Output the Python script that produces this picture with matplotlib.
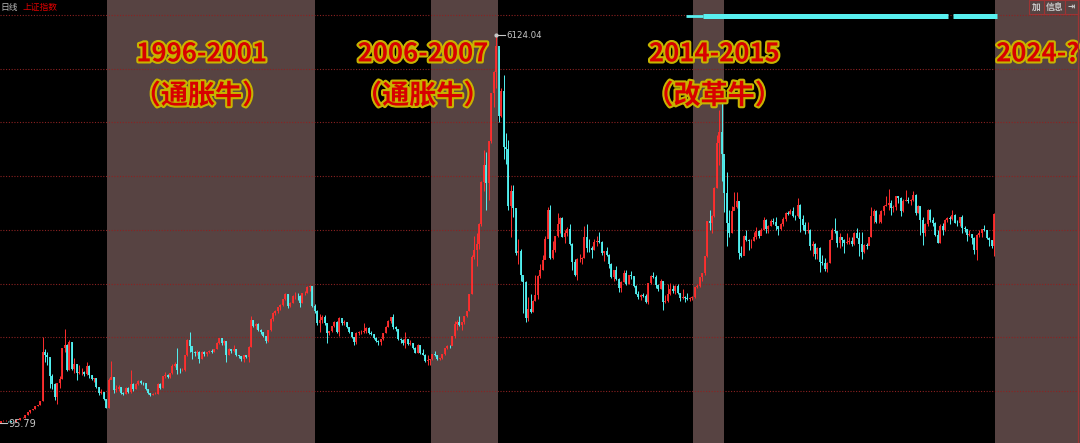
import matplotlib

matplotlib.use("Agg")
import matplotlib.pyplot as plt
import matplotlib.patheffects as pe
import numpy as np

plt.rcParams["font.family"] = ["Noto Sans CJK SC", "DejaVu Sans"]

# monthly bars of the SSE Composite, first bar = Dec 1990
FIRST_OPEN = 96.05
close = [
    127.6,  # 1990-12
    130, 133, 120, 114, 115, 138, 144, 178, 181, 219, 260, 293,  # 1991
    313, 365, 371, 445, 1200, 1150, 1120, 820, 708, 502, 719, 780,  # 1992
    1258, 1309, 925, 1358, 935, 1007, 876, 887, 888, 858, 976, 834,  # 1993
    774, 792, 650, 555, 570, 467, 334, 757, 803, 608, 621, 648,  # 1994
    562, 549, 646, 577, 701, 630, 704, 745, 717, 716, 621, 555,  # 1995
    537, 549, 554, 700, 644, 821, 838, 818, 869, 988, 1015, 917,  # 1996
    914, 917, 1145, 1387, 1298, 1199, 1188, 1204, 1097, 1205, 1165, 1194,  # 1997
    1222, 1206, 1243, 1343, 1411, 1339, 1370, 1150, 1246, 1217, 1245, 1147,  # 1998
    1135, 1091, 1158, 1120, 1279, 1689, 1601, 1627, 1546, 1505, 1445, 1367,  # 1999
    1534, 1714, 1800, 1836, 1895, 1928, 2023, 2101, 1910, 1961, 2071, 2073,  # 2000
    2065, 1959, 2113, 2120, 2214, 2218, 1920, 1834, 1642, 1690, 1748, 1646,  # 2001
    1490, 1524, 1603, 1672, 1513, 1732, 1655, 1669, 1581, 1505, 1427, 1357,  # 2002
    1500, 1511, 1511, 1521, 1577, 1487, 1476, 1421, 1367, 1349, 1397, 1497,  # 2003
    1590, 1675, 1742, 1595, 1555, 1399, 1386, 1342, 1396, 1321, 1340, 1266,  # 2004
    1191, 1306, 1181, 1159, 1060, 1080, 1083, 1162, 1155, 1092, 1099, 1161,  # 2005
    1258, 1299, 1298, 1440, 1641, 1672, 1612, 1658, 1752, 1837, 2099, 2675,  # 2006
    2786, 2881, 3183, 3841, 4109, 3820, 4471, 5218, 5552, 5955, 4871, 5261,  # 2007
    4383, 4348, 3473, 3693, 3433, 2736, 2775, 2397, 2293, 1728, 1871, 1821,  # 2008
    1991, 2082, 2373, 2477, 2632, 2959, 3412, 2667, 2779, 2996, 3195, 3277,  # 2009
    2989, 3051, 3109, 2870, 2592, 2398, 2638, 2638, 2656, 2979, 2820, 2808,  # 2010
    2790, 2905, 2928, 2911, 2743, 2762, 2701, 2567, 2359, 2468, 2333, 2199,  # 2011
    2292, 2428, 2263, 2396, 2373, 2225, 2103, 2047, 2086, 2069, 1980, 2269,  # 2012
    2385, 2365, 2237, 2178, 2301, 1979, 1994, 2098, 2174, 2141, 2220, 2116,  # 2013
    2033, 2056, 2033, 2026, 2039, 2048, 2202, 2217, 2364, 2420, 2683, 3235,  # 2014
    3210, 3310, 3748, 4442, 4612, 4277, 3664, 3206, 3053, 3383, 3445, 3539,  # 2015
    2738, 2688, 3004, 2938, 2917, 2930, 2979, 3085, 3005, 3100, 3250, 3104,  # 2016
    3159, 3242, 3223, 3155, 3117, 3192, 3273, 3361, 3349, 3393, 3317, 3307,  # 2017
    3481, 3259, 3169, 3082, 3095, 2847, 2876, 2725, 2821, 2603, 2588, 2494,  # 2018
    2585, 2941, 3091, 3078, 2899, 2979, 2933, 2886, 2905, 2929, 2872, 3050,  # 2019
    2977, 2880, 2750, 2860, 2852, 2985, 3310, 3396, 3218, 3225, 3392, 3473,  # 2020
    3483, 3509, 3442, 3447, 3615, 3591, 3397, 3544, 3568, 3547, 3564, 3640,  # 2021
    3361, 3462, 3252, 3047, 3186, 3399, 3253, 3202, 3024, 2893, 3151, 3089,  # 2022
    3256, 3280, 3273, 3323, 3205, 3202, 3291, 3120, 3110, 3018, 3030, 2975,  # 2023
    2789, 3015, 3041, 3105, 3087, 2967, 2939, 2842, 3336,  # 2024
]
high = [
    127.6,
    135, 135, 134, 121, 116, 138, 144, 178, 190, 219, 260, 293,
    313, 365, 373, 445, 1429, 1250, 1200, 1100, 850, 720, 720, 830,
    1258, 1559, 1330, 1392, 1360, 1100, 1020, 1000, 950, 900, 1044, 1000,
    840, 800, 800, 660, 620, 580, 470, 800, 1053, 810, 690, 680,
    650, 570, 650, 650, 926, 710, 710, 760, 760, 730, 720, 620,
    560, 560, 570, 720, 710, 830, 890, 850, 880, 1010, 1050, 1258,
    950, 950, 1150, 1400, 1510, 1260, 1220, 1230, 1220, 1210, 1220, 1200,
    1230, 1240, 1250, 1350, 1420, 1422, 1380, 1370, 1260, 1250, 1300, 1250,
    1160, 1140, 1160, 1160, 1290, 1756, 1700, 1650, 1650, 1560, 1510, 1440,
    1540, 1730, 1820, 1850, 1900, 1940, 2030, 2115, 2100, 1970, 2080, 2125,
    2110, 2080, 2120, 2140, 2220, 2245, 2230, 1940, 1850, 1790, 1770, 1780,
    1650, 1530, 1610, 1680, 1680, 1748, 1700, 1690, 1670, 1590, 1510, 1430,
    1510, 1520, 1540, 1649, 1580, 1580, 1520, 1480, 1430, 1380, 1400, 1500,
    1600, 1690, 1750, 1783, 1600, 1560, 1420, 1400, 1510, 1400, 1390, 1340,
    1270, 1320, 1310, 1240, 1170, 1150, 1090, 1170, 1220, 1160, 1110, 1170,
    1260, 1300, 1310, 1445, 1680, 1700, 1757, 1670, 1760, 1840, 2100, 2700,
    2994, 3050, 3200, 3850, 4335, 4300, 4480, 5220, 5560, 6124.04, 5900, 5300,
    5500, 4600, 4500, 3800, 3786, 3400, 2950, 2800, 2360, 2300, 2050, 2100,
    2000, 2400, 2400, 2560, 2700, 3000, 3450, 3478, 2930, 3000, 3360, 3300,
    3300, 3100, 3140, 3180, 2900, 2650, 2660, 2720, 2680, 3160, 3186, 2950,
    2850, 2950, 3000, 3067, 2920, 2770, 2830, 2720, 2580, 2480, 2536, 2350,
    2300, 2480, 2478, 2400, 2453, 2370, 2240, 2150, 2100, 2110, 2100, 2275,
    2400, 2444, 2400, 2260, 2330, 2300, 2090, 2250, 2270, 2240, 2245, 2250,
    2120, 2180, 2070, 2110, 2060, 2070, 2210, 2250, 2370, 2430, 2690, 3240,
    3400, 3320, 3760, 4570, 4958, 5178.19, 4200, 4000, 3400, 3460, 3680, 3684,
    3540, 2850, 3020, 3100, 2950, 2960, 3070, 3140, 3100, 3120, 3300, 3270,
    3170, 3260, 3280, 3300, 3160, 3200, 3300, 3370, 3390, 3420, 3450, 3330,
    3587, 3500, 3330, 3220, 3220, 3110, 2920, 2900, 2830, 2830, 2700, 2660,
    2600, 2950, 3130, 3288, 3000, 3050, 2990, 2950, 3050, 2990, 2980, 3070,
    3127, 3060, 3070, 2870, 2900, 2990, 3458, 3420, 3400, 3350, 3400, 3480,
    3620, 3731, 3560, 3480, 3630, 3630, 3600, 3580, 3723, 3600, 3580, 3708,
    3650, 3490, 3470, 3300, 3200, 3420, 3425, 3300, 3220, 3100, 3180, 3200,
    3270, 3300, 3310, 3400, 3350, 3250, 3300, 3322, 3150, 3110, 3090, 3040,
    2980, 3030, 3090, 3110, 3174, 3090, 2990, 2940, 3358,
]
low = [
    95.79,
    127, 129, 118, 105, 105, 114, 136, 142, 178, 180, 217, 257,
    292, 312, 360, 368, 441, 1050, 1000, 640, 620, 460, 386.85, 640,
    780, 1200, 900, 925, 920, 880, 770, 850, 840, 820, 840, 800,
    760, 730, 640, 530, 540, 460, 325.89, 330, 780, 560, 580, 600,
    550, 524, 550, 560, 560, 600, 620, 690, 700, 690, 610, 550,
    512.83, 530, 540, 550, 630, 640, 800, 790, 790, 860, 970, 855,
    870, 900, 910, 1140, 1200, 1090, 1130, 1150, 1025, 1090, 1140, 1130,
    1180, 1190, 1200, 1240, 1330, 1310, 1300, 1043, 1150, 1180, 1200, 1130,
    1110, 1060, 1047, 1100, 1050, 1280, 1580, 1550, 1530, 1480, 1430, 1341,
    1360, 1530, 1680, 1780, 1800, 1850, 1920, 2000, 1880, 1900, 1960, 2020,
    2000, 1893, 1960, 2080, 2110, 2150, 1900, 1800, 1620, 1514, 1650, 1620,
    1339, 1470, 1510, 1590, 1500, 1450, 1620, 1620, 1570, 1490, 1410, 1311,
    1320, 1470, 1480, 1500, 1500, 1480, 1460, 1400, 1350, 1310, 1307, 1390,
    1490, 1580, 1650, 1560, 1520, 1380, 1340, 1310, 1260, 1310, 1300, 1250,
    1180, 1180, 1170, 1150, 1040, 998, 1004, 1080, 1140, 1080, 1074, 1090,
    1160, 1250, 1260, 1300, 1420, 1540, 1600, 1540, 1640, 1750, 1840, 2100,
    2650, 2541, 2800, 3150, 3700, 3400, 3560, 4450, 5000, 5300, 4778, 4850,
    4200, 4123, 3400, 2990, 3300, 2700, 2560, 2300, 1802, 1664.93, 1680, 1800,
    1820, 1990, 2030, 2350, 2470, 2640, 2980, 2640, 2640, 2760, 2990, 3050,
    2990, 2900, 3000, 2860, 2480, 2380, 2320, 2600, 2560, 2660, 2750, 2750,
    2660, 2780, 2850, 2900, 2710, 2610, 2690, 2500, 2350, 2307, 2320, 2134,
    2132, 2280, 2240, 2250, 2340, 2210, 2100, 2030, 2000, 2060, 1960, 1949,
    2260, 2350, 2200, 2150, 2170, 1849, 1960, 1980, 2080, 2120, 2100, 2100,
    1985, 2030, 1974, 2010, 1991, 2010, 2040, 2190, 2210, 2300, 2400, 2670,
    3100, 3050, 3300, 3750, 4100, 3850, 3373, 2850, 2980, 3050, 3420, 3440,
    2638, 2680, 2740, 2920, 2780, 2810, 2930, 2960, 2970, 3010, 3100, 3050,
    3050, 3150, 3180, 3100, 3016, 3090, 3150, 3230, 3330, 3340, 3300, 3250,
    3300, 3062, 3100, 3040, 3050, 2780, 2690, 2650, 2640, 2449, 2550, 2460,
    2440, 2580, 2950, 3050, 2830, 2820, 2850, 2730, 2880, 2880, 2850, 2860,
    2970, 2685, 2646, 2730, 2800, 2860, 2980, 3200, 3200, 3200, 3210, 3325,
    3460, 3400, 3328, 3380, 3410, 3520, 3312, 3380, 3540, 3510, 3490, 3540,
    3330, 3357, 3023, 2863, 3000, 3150, 3220, 3150, 3000, 2885, 2900, 3020,
    3080, 3220, 3180, 3250, 3200, 3150, 3150, 3050, 3060, 2923, 3000, 2882,
    2724, 2635, 2990, 2980, 3080, 2950, 2840, 2820, 2689,
]

# bull-market shading (decimal years) and labels
bull_spans = [(1994.58, 2001.62), (2005.58, 2007.84), (2014.49, 2015.54), (2024.75, 2028.0)]
bull_years = ["1996-2001", "2006-2007", "2014-2015", "2024-?"]
bull_names = ["（通胀牛）", "（通胀牛）", "（改革牛）", ""]
label_x = [1997.78, 2005.3, 2015.2, 2024.78]

# dotted horizontal grid levels used by the terminal
grid_levels = [593, 1429, 2263, 3097, 3933, 4766, 5600, 6434]

# cyan signal strip at the top
strip_spans = [(2014.83, 2023.15), (2023.32, 2024.81)]
strip_thin = (2014.25, 2014.83)

UP = "#ff2e2e"
DOWN = "#52f2f2"
SHADE = "#574342"

fig = plt.figure(figsize=(10.8, 4.43), dpi=100, facecolor="black")
ax = fig.add_axes([0, 0, 1, 1])
ax.set_facecolor("black")
ax.set_xlim(1990.93, 2027.63)
ax.set_ylim(-215, 6668)
ax.axis("off")

for x0, x1 in bull_spans:
    ax.axvspan(x0, x1, color=SHADE, zorder=0, lw=0)

for g in grid_levels:
    ax.axhline(g, color="#8c2222", lw=0.8, ls=(0, (1, 1.5)), zorder=1)

close_a = np.array(close, dtype=float)
high_a = np.array(high, dtype=float)
low_a = np.array(low, dtype=float)
open_a = np.concatenate([[FIRST_OPEN], close_a[:-1]])
xs = 1990 + (11 + np.arange(len(close_a)) + 0.5) / 12
cols = np.where(close_a >= open_a, UP, DOWN)

ax.vlines(xs, low_a, high_a, colors=cols, lw=0.7, zorder=3)
ax.vlines(xs, open_a, close_a, colors=cols, lw=1.3, zorder=4)

# extreme labels
peak_i = int(np.argmax(high_a))
ax.plot([xs[peak_i], xs[peak_i] + 0.3], [high_a[peak_i]] * 2, color="#c8c8c8", lw=0.8, zorder=5)
ax.plot(xs[peak_i], high_a[peak_i], "o", ms=2, color="#c8c8c8", zorder=5)
ax.text(xs[peak_i] + 0.33, high_a[peak_i], f"{high_a[peak_i]:.2f}", color="#c8c8c8",
        fontsize=6.2, va="center", ha="left", family="DejaVu Sans", zorder=5)
low_i = int(np.argmin(low_a))
ax.plot([1990.93, xs[low_i] + 0.2], [low_a[low_i]] * 2, color="#c8c8c8", lw=0.8, zorder=5)
ax.text(xs[low_i] + 0.25, low_a[low_i] - 15, f"{low_a[low_i]:.2f}", color="#c8c8c8",
        fontsize=7, va="center", ha="left", family="DejaVu Sans", zorder=5)

# signal strip
for x0, x1 in strip_spans:
    ax.hlines(6419, x0, x1, color="#58f0f0", lw=3.6, zorder=6)
ax.hlines(6419, strip_thin[0], strip_thin[1], color="#58f0f0", lw=2.0, zorder=6)

# bull labels
stroke = [pe.withStroke(linewidth=3, foreground="#c8b400")]
for x, yr, name in zip(label_x, bull_years, bull_names):
    ha = "left" if name == "" else "center"
    ax.text(x, 5830, yr, color="#d80000", fontsize=18.5, fontweight="bold", ha=ha,
            va="center", path_effects=stroke, zorder=7)
    if name:
        ax.text(x, 5180, name, color="#d80000", fontsize=19.5, fontweight="bold",
                ha="center", va="center", path_effects=stroke, zorder=7)

# terminal header
fig.text(0.0, 0.984, "日线", color="#b8b8b8", fontsize=6.3, va="center", ha="left")
fig.text(0.021, 0.984, "上证指数", color="#e00000", fontsize=6.3, va="center", ha="left")
box_edges = [1029, 1044, 1065, 1078]
box_texts = ["加", "信息", "⇥"]
for (l, r), t in zip(zip(box_edges[:-1], box_edges[1:]), box_texts):
    fig.patches.append(plt.Rectangle((l / 1080, 1 - 14 / 443), (r - l) / 1080, 14 / 443,
                                     transform=fig.transFigure, fill=False,
                                     edgecolor="#9c3434", lw=0.8))
    fig.text((l + r) / 2 / 1080, 1 - 7 / 443, t, color="#c8c8c8", fontsize=6.3,
             ha="center", va="center", fontweight="bold")
fig.add_artist(plt.Line2D([1078 / 1080] * 2, [0, 1], color="#9c3434", lw=0.9,
                          transform=fig.transFigure))

fig.savefig("out.png", dpi=100, facecolor="black")
